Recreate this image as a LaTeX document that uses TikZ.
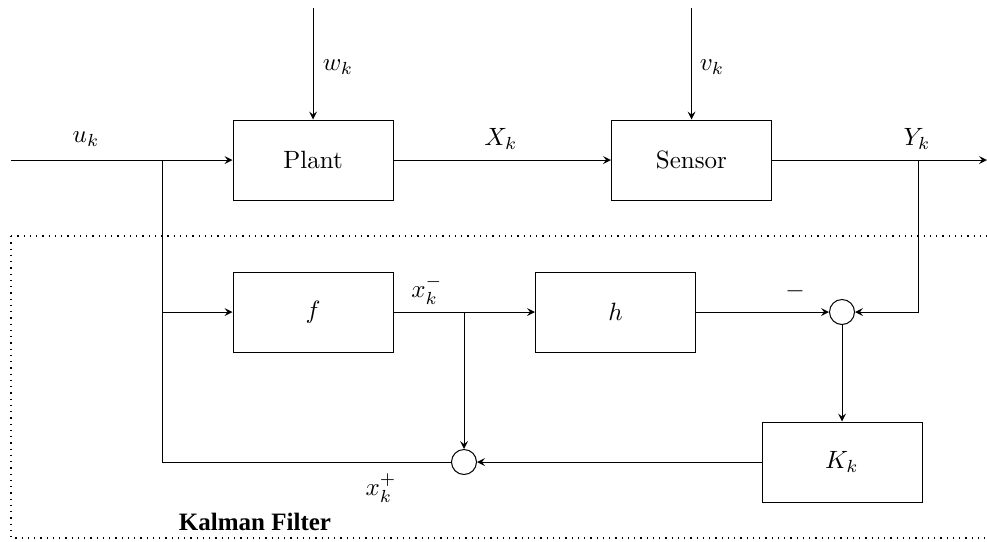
\documentclass[tikz,border=0pt]{standalone}
\usepackage{fontspec}
\newfontfamily\kfont{Liberation Serif}
\usetikzlibrary{arrows}
\begin{document}
\begin{tikzpicture}[x=0.4pt,y=-0.4pt,
  blk/.style={draw,rectangle,minimum width=64pt,minimum height=32pt,inner sep=0pt},
  sumc/.style={draw,circle,minimum size=10pt,inner sep=0pt},
  arr/.style={-stealth},
  lbl/.style={inner sep=0pt}]
\useasboundingbox (0,0) rectangle (987,541);
% dotted frame
\draw[dotted,line width=0.5pt] (11,236) -- (988,236);
\draw[dotted,line width=0.5pt] (11,236) -- (11,538) -- (988,538);
% blocks
\node[blk] (plant) at (313,160) {Plant};
\node[blk] (sensor) at (691.5,160) {Sensor};
\node[blk] (f) at (313,312) {$f$};
\node[blk] (h) at (615.5,312) {$h$};
\node[blk] (K) at (842,462) {$K_k$};
\node[sumc] (s1) at (842,312) {};
\node[sumc] (s2) at (464,462) {};
% coordinates
\coordinate (uin) at (11,160);
\coordinate (ubr) at (162,160);
\coordinate (ufb) at (162,312);
\coordinate (wtop) at (313,8);
\coordinate (vtop) at (691.5,8);
\coordinate (yout) at (987,160);
\coordinate (ybr) at (918,160);
\coordinate (xj) at (464,312);
% connectors
\draw[arr] (uin) -- (plant.west);
\draw[arr] (wtop) -- (plant.north);
\draw[arr] (vtop) -- (sensor.north);
\draw[arr] (plant.east) -- (sensor.west);
\draw[arr] (sensor.east) -- (yout);
\draw (ubr) |- (s2.west);
\draw[arr] (ufb) -- (f.west);
\draw[arr] (f.east) -- (h.west);
\draw[arr] (xj) -- (s2.north);
\draw[arr] (h.east) -- (s1.west);
\draw[arr] (ybr) |- (s1.east);
\draw[arr] (s1.south) -- (K.north);
\draw[arr] (K.west) -- (s2.east);
% labels
\node[lbl] (lu) at (86,139) {$u_k$};
\node[lbl] (lw) at (338,67) {$w_k$};
\node[lbl] (lv) at (712,67) {$v_k$};
\node[lbl] (lX) at (501,139) {$X_k$};
\node[lbl] (lY) at (917,139) {$Y_k$};
\node[lbl] (lxm) at (427,290) {$x_k^-$};
\node[lbl] (lminus) at (795,291) {$-$};
\node[lbl] (lxp) at (381,488) {$x_k^+$};
\node[lbl] (lkf) at (255,522) {\kfont\bfseries Kalman Filter};
\end{tikzpicture}
\end{document}
